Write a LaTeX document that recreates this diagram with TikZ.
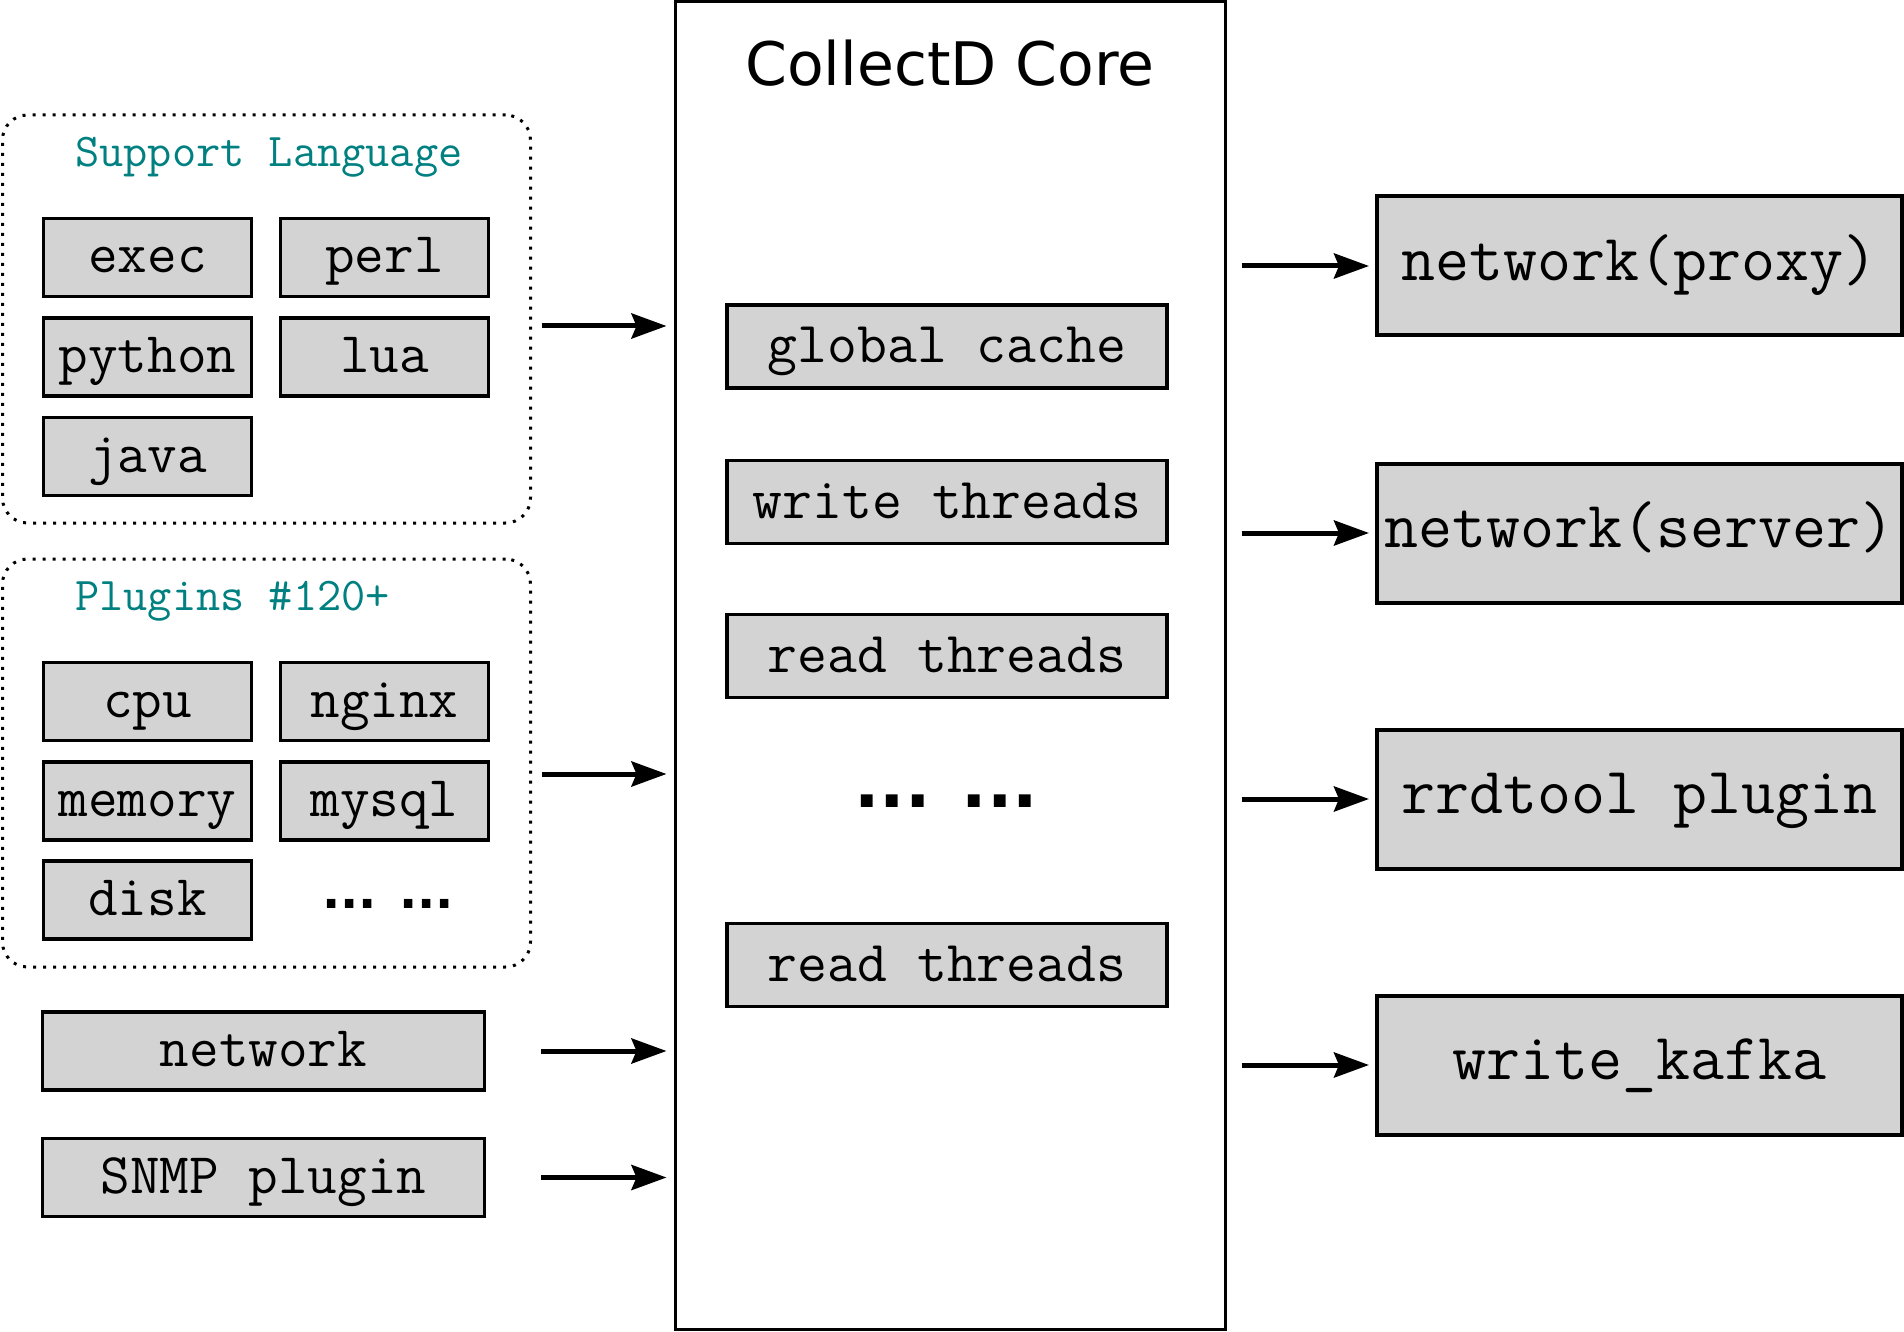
\documentclass[tikz,border=0pt]{standalone}
\usepackage{fontspec}
\usetikzlibrary{arrows.meta,calc}
\newfontfamily\corefont{DejaVu Sans}
\definecolor{boxgray}{RGB}{211,211,211}
\definecolor{titleteal}{RGB}{0,128,128}
\tikzset{
  >={Stealth[length=35pt,width=25pt,inset=5pt]},
}
\tikzstyle{every node}=[inner sep=0pt]
\tikzstyle{plug}=[draw,line width=3.5pt,fill=boxgray,minimum width=208pt,minimum height=78pt,
  font=\fontsize{57.5}{62}\selectfont\ttfamily,text height=31pt,text depth=0pt]
\tikzstyle{inner}=[plug,minimum width=440pt,minimum height=83pt,text height=32pt,
  font=\fontsize{58}{62}\selectfont\ttfamily]
\tikzstyle{sink}=[plug,line width=4pt,minimum width=525pt,minimum height=139pt,
  font=\fontsize{66}{70}\selectfont\ttfamily,text height=29pt]
\tikzstyle{group}=[draw,line width=3pt,dash pattern=on 3pt off 7pt,rounded corners=25pt,
  minimum width=528pt,minimum height=408pt]
\tikzstyle{title}=[anchor=base west,text=titleteal,font=\fontsize{47}{50}\selectfont\ttfamily]
\tikzstyle{more}=[anchor=base,font=\fontsize{48}{50}\corefont\bfseries]
\tikzstyle{arrow}=[->,line width=5pt]

\begin{document}
\begin{tikzpicture}[x=1pt,y=-1pt]
    \useasboundingbox (0,0) rectangle (1904,1332);
    % languages
    \node[group] (langgrp) at (266.5,319) {};
    \node[title] (langtitle) at (75,167) {Support Language};
    \node[plug] (exec) at (147.5,257.5) {exec};
    \node[plug] (perl) at (384.5,257.5) {perl};
    \node[plug] (python) at (147.5,357) {python};
    \node[plug] (lua) at (384.5,357) {lua};
    \node[plug] (java) at (147.5,456.5) {java};
    % plugins
    \node[group] (plugrp) at (266.5,763) {};
    \node[title] (plugtitle) at (75,610) {Plugins \#120+};
    \node[plug] (cpu) at (147.5,701.5) {cpu};
    \node[plug] (nginx) at (384.5,701.5) {nginx};
    \node[plug] (memory) at (147.5,801) {memory};
    \node[plug] (mysql) at (384.5,801) {mysql};
    \node[plug] (disk) at (147.5,900) {disk};
    \node[more] (plugdots) at (388,908) {... ...};
    \node[plug,minimum width=442pt] (network) at (263.5,1051) {network};
    \node[plug,minimum width=442pt] (snmp) at (263.5,1177.5) {SNMP plugin};
    % core
    \node[draw,line width=3pt,minimum width=550pt,minimum height=1328pt] (core) at (950,665.5) {};
    \node[anchor=base,font=\fontsize{60}{64}\corefont] (coretitle) at (950,86) {CollectD Core};
    \node[inner] (cache) at (947,346.5) {global cache};
    \node[inner] (write) at (947,502) {write threads};
    \node[inner] (read) at (947,656) {read threads};
    \node[more,font=\fontsize{67}{70}\corefont\bfseries] (coredots) at (946,807) {... ...};
    \node[inner] (readb) at (947,965) {read threads};
    % outputs
    \node[sink] (proxy) at (1639.5,266) {network(proxy)};
    \node[sink] (server) at (1639.5,533) {network(server)};
    \node[sink] (rrd) at (1639.5,799) {rrdtool plugin};
    \node[sink] (kafka) at (1639.5,1065) {write\_kafka};
    % arrows in
    \draw[arrow] ($(langgrp.east)+(9.5,7)$) -- ($(langgrp.east -| core.west)+(-7,7)$);
    \draw[arrow] ($(plugrp.east)+(9.5,11)$) -- ($(plugrp.east -| core.west)+(-7,11)$);
    \draw[arrow] ($(network.east)+(55,0)$) -- ($(network.east -| core.west)+(-7,0)$);
    \draw[arrow] ($(snmp.east)+(55,0)$) -- ($(snmp.east -| core.west)+(-7,0)$);
    % arrows out
    \foreach \n in {proxy,server,rrd,kafka}
      \draw[arrow] ($(\n.west -| core.east)+(15,0)$) -- ($(\n.west)+(-6,0)$);
\end{tikzpicture}
\end{document}
